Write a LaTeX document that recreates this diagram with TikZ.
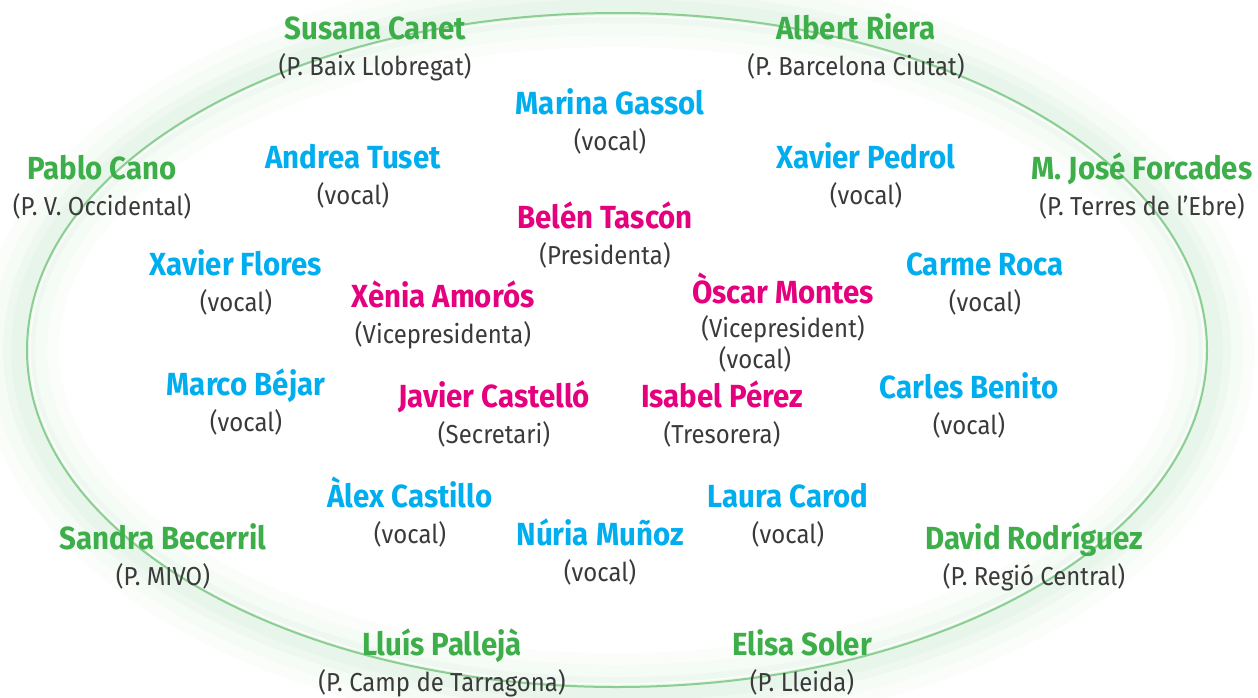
\documentclass[tikz,border=0pt]{standalone}
\usepackage{fontspec}
\setmainfont{Fira Sans}[FakeStretch=0.92]
\definecolor{regio}{HTML}{3DAE49}
\definecolor{vocal}{HTML}{00AEEF}
\definecolor{junta}{HTML}{E5007D}
\definecolor{carrec}{HTML}{3A3A3A}
\begin{document}
\begin{tikzpicture}[x=0.5pt,y=-0.5pt,
    nom/.style={font=\fontsize{16}{18}\selectfont\bfseries, inner sep=0pt, anchor=base},
    rol/.style={font=\fontsize{13}{15}\selectfont, text=carrec, inner sep=0pt, anchor=base}]
\useasboundingbox (0,0) rectangle (1258,697);
\foreach \w/\o in {40/0.05,28/0.06,16/0.07,8/0.08}
    \draw[regio!50, line width=\w pt, opacity=\o] (617,350) ellipse (598 and 343);
\draw[regio!60, line width=1pt] (617,350) ellipse (590 and 337);
\draw[white, line width=0.5pt] (617,350) ellipse (587 and 334);
\foreach \id/\x/\y/\c/\n/\r in {
    susana/375/39/regio/Susana Canet/(P. Baix Llobregat),
    albert/856/39/regio/Albert Riera/(P. Barcelona Ciutat),
    pablo/102/179/regio/Pablo Cano/(P. V. Occidental),
    mjose/1142/179/regio/M. José Forcades/(P. Terres de l’Ebre),
    sandra/163/549/regio/Sandra Becerril/(P. MIVO),
    david/1034/549/regio/David Rodríguez/(P. Regió Central),
    lluis/442/655/regio/Lluís Pallejà/(P. Camp de Tarragona),
    elisa/802/655/regio/Elisa Soler/(P. Lleida),
    marina/610/114/vocal/Marina Gassol/(vocal),
    andrea/353/168/vocal/Andrea Tuset/(vocal),
    pedrol/866/168/vocal/Xavier Pedrol/(vocal),
    flores/236/275/vocal/Xavier Flores/(vocal),
    carme/985/275/vocal/Carme Roca/(vocal),
    marco/246/395/vocal/Marco Béjar/(vocal),
    carles/969/398/vocal/Carles Benito/(vocal),
    alex/410/507/vocal/Àlex Castillo/(vocal),
    laura/788/507/vocal/Laura Carod/(vocal),
    nuria/600/545/vocal/Núria Muñoz/(vocal),
    belen/605/228/junta/Belén Tascón/(Presidenta),
    xenia/443/307/junta/Xènia Amorós/(Vicepresidenta),
    javier/494/407/junta/Javier Castelló/(Secretari),
    isabel/722/407/junta/Isabel Pérez/(Tresorera)}
  {
    \node[nom, text=\c] (\id) at (\x,\y) {\n};
    \node[rol] (\id-r) at (\x,{\y+36}) {\r};
  }
\node[nom, text=junta] (oscar) at (783,303) {Òscar Montes};
\node[rol] (oscar-r) at (783,337) {(Vicepresident)};
\node[rol] (oscar-v) at (755,368) {(vocal)};
\end{tikzpicture}
\end{document}
